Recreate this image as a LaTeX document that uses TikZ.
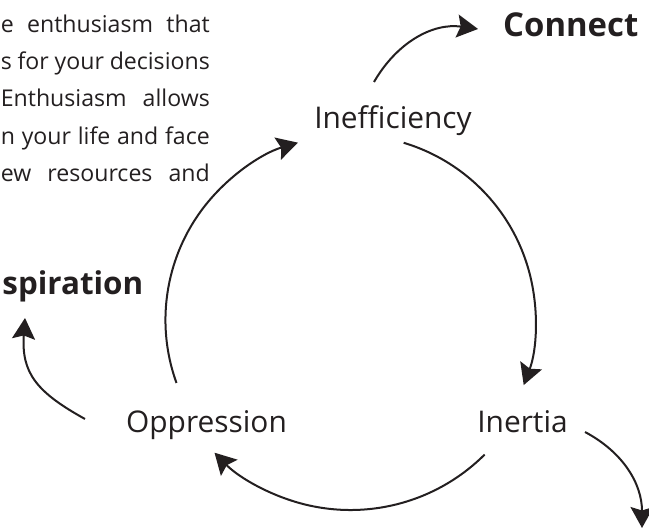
\documentclass[tikz,border=0pt]{standalone}
\usepackage{fontspec}
\setmainfont{Open Sans}
\usetikzlibrary{arrows.meta}
\definecolor{ink}{RGB}{35,31,32}
\begin{document}
\begin{tikzpicture}[x=1bp,y=1bp,
  stage/.style={inner sep=0pt, text=ink, font=\fontsize{30}{36}\selectfont, anchor=base},
  headword/.style={inner sep=0pt, text=ink, font=\fontsize{33}{39}\selectfont\bfseries},
  bodyline/.style={inner sep=0pt, text=ink, font=\fontsize{23.2}{28}\selectfont, anchor=base east},
  looparrow/.style={draw=ink, line width=2bp, -{Stealth[length=21bp,width=23bp,inset=3.5bp]}}]
\useasboundingbox (0,0) rectangle (649,529);

% justified paragraph on the left
\node[bodyline] (p1) at (210,496.7) {\makebox[209bp][s]{e enthusiasm that}};
\node[bodyline] (p2) at (210,459.3) {\makebox[209bp][s]{s for your decisions}};
\node[bodyline] (p3) at (210,422.0) {\makebox[209bp][s]{Enthusiasm allows}};
\node[bodyline] (p4) at (210,384.6) {\makebox[209bp][s]{n your life and face}};
\node[bodyline] (p5) at (210,347.3) {\makebox[209bp][s]{ew resources and}};

% headings
\node[headword, anchor=base west] (connect) at (503,492) {Connect};
\node[headword, font=\fontsize{31.5}{38}\selectfont\bfseries, anchor=base east] (insp) at (143.5,234) {spiration};

% the three stages
\node[stage] (ineff) at (393,400) {Inefficiency};
\node[stage] (inert) at (522.5,96) {Inertia};
\node[stage] (opp) at (206.5,96) {Oppression};

% arc end points around the cycle
\coordinate (ineffOut) at (403.7,386.2);
\coordinate (inertOut) at (484.6,74.4);
\coordinate (oppOut) at (176.5,146);

% cycle arcs
\draw[looparrow] (ineffOut) arc[start angle=73.3, end angle=-20.6, radius=185bp];
\draw[looparrow] (inertOut) arc[start angle=-45.1, end angle=-135.7, radius=190bp];
\draw[looparrow] (oppOut) arc[start angle=199.9, end angle=106.5, radius=185bp];

% exits from the cycle
\coordinate (ineffUp) at (374,447);
\coordinate (connectIn) at (478,500);
\coordinate (oppSide) at (85,110);
\coordinate (inspIn) at (25,211);
\coordinate (inertSide) at (585,97);
\coordinate (downEnd) at (642,1);
\draw[looparrow] (ineffUp) to[out=60,in=172] (connectIn);
\draw[looparrow] (oppSide) to[out=151,in=266,looseness=1.2] (inspIn);
\draw[looparrow] (inertSide) to[out=-28,in=90] (downEnd);
\end{tikzpicture}
\end{document}
